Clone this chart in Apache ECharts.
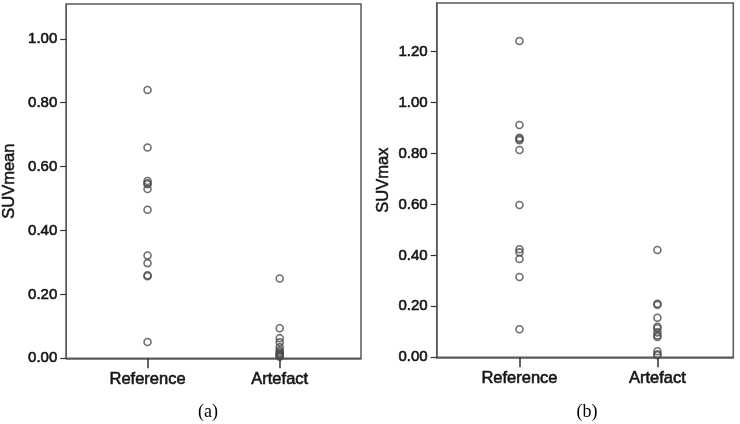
<!DOCTYPE html>
<html>
<head>
<meta charset="utf-8">
<script src="https://cdn.jsdelivr.net/npm/echarts@6/dist/echarts.min.js"></script>
<style>html,body{margin:0;padding:0;background:#fff;}#c{width:740px;height:424px;}</style>
</head>
<body>
<div id="c"></div>
<script>
var categories = ['Reference', 'Artefact'];
var yTicksA = [0, 0.2, 0.4, 0.6, 0.8, 1.0];
var yTicksB = [0, 0.2, 0.4, 0.6, 0.8, 1.0, 1.2];
var suvMeanReference = [0.84, 0.66, 0.555, 0.548, 0.545, 0.53, 0.465, 0.322, 0.298, 0.26, 0.257, 0.051];
var suvMeanArtefact = [0.25, 0.094, 0.063, 0.05, 0.035, 0.025, 0.02, 0.015, 0.012, 0.01, 0.007, 0.005];
var suvMaxReference = [1.242, 0.912, 0.862, 0.857, 0.852, 0.814, 0.598, 0.424, 0.412, 0.386, 0.315, 0.11];
var suvMaxArtefact = [0.421, 0.21, 0.206, 0.155, 0.12, 0.114, 0.098, 0.086, 0.08, 0.024, 0.012, 0.008];

function pairs(idx, arr) { return arr.map(function (v) { return [idx, v]; }); }

var lineCol = '#5a5a5a';
var txtCol = '#151515';
var ff = '"Liberation Sans", Arial, sans-serif';

function xAx(gi, min, max) {
  return {
    type: 'value', gridIndex: gi, min: min, max: max,
    splitLine: { show: false },
    axisLine: { show: true, onZero: false, lineStyle: { color: lineCol, width: 1.5 } },
    axisTick: { show: true, customValues: [0, 1], length: 10, lineStyle: { color: '#333', width: 1.5 } },
    axisLabel: { customValues: [0, 1], margin: 13, fontSize: 16.5, color: txtCol, fontFamily: ff,
      textBorderColor: txtCol, textBorderWidth: 0.6,
      formatter: function (v) { return categories[Math.round(v)]; } }
  };
}
function yAx(gi, max, ticks, name, gap) {
  return {
    type: 'value', gridIndex: gi, min: 0, max: max,
    name: name, nameLocation: 'middle', nameRotate: 90, nameGap: gap,
    nameTextStyle: { fontSize: 16.5, color: txtCol, fontFamily: ff, textBorderColor: txtCol, textBorderWidth: 0.5 },
    splitLine: { show: false },
    axisLine: { show: true, onZero: false, lineStyle: { color: lineCol, width: 1.5 } },
    axisTick: { show: true, customValues: ticks, length: 6, lineStyle: { color: '#333', width: 1.2 } },
    axisLabel: { customValues: ticks, margin: 9, fontSize: 15, color: txtCol, fontFamily: ff,
      textBorderColor: txtCol, textBorderWidth: 0.6,
      formatter: function (v) { return v.toFixed(2); } }
  };
}
function sc(xi, data) {
  return {
    type: 'scatter', xAxisIndex: xi, yAxisIndex: xi, data: data,
    symbol: 'circle', symbolSize: 7,
    itemStyle: { color: 'rgba(255,255,255,0)', borderColor: '#4a4a4a', borderWidth: 1.6 },
    emphasis: { disabled: true }, silent: true
  };
}

var chart = echarts.init(document.getElementById('c'), null, { renderer: 'canvas' });
chart.setOption({
  animation: false,
  backgroundColor: '#fff',
  grid: [
    { left: 61, top: 4, width: 300, height: 354.3, show: true, borderColor: lineCol, borderWidth: 1.5, backgroundColor: '#fff' },
    { left: 436.7, top: 3, width: 296.6, height: 354.3, show: true, borderColor: lineCol, borderWidth: 1.5, backgroundColor: '#fff' }
  ],
  xAxis: [xAx(0, -0.615, 1.615), xAx(1, -0.6, 1.55)],
  yAxis: [yAx(0, 1.109, yTicksA, 'SUVmean', 48), yAx(1, 1.391, yTicksB, 'SUVmax', 45)],
  series: [
    sc(0, pairs(0, suvMeanReference)),
    sc(0, pairs(1, suvMeanArtefact)),
    sc(1, pairs(0, suvMaxReference)),
    sc(1, pairs(1, suvMaxArtefact))
  ],
  graphic: [
    { type: 'text', x: 208, y: 412, style: { text: '(a)', fontSize: 18, fontFamily: '"Liberation Serif", "Times New Roman", serif', fill: '#000', textAlign: 'center', textVerticalAlign: 'middle' } },
    { type: 'text', x: 587, y: 412, style: { text: '(b)', fontSize: 18, fontFamily: '"Liberation Serif", "Times New Roman", serif', fill: '#000', textAlign: 'center', textVerticalAlign: 'middle' } }
  ]
});
</script>
</body>
</html>
